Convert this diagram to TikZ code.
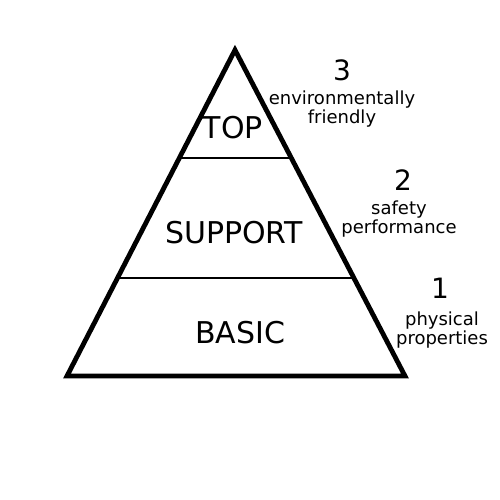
\documentclass[tikz,border=0pt]{standalone}
\usepackage{fontspec}
\setmainfont{DejaVu Sans}
\usetikzlibrary{positioning,calc}

\begin{document}
\begin{tikzpicture}[
            x=0.5pt, y=-0.5pt,
            tier/.style={font=\fontsize{15}{17}\selectfont, inner sep=0pt},
            num/.style={font=\fontsize{14}{16}\selectfont, inner sep=0pt, anchor=base},
            lbl/.style={font=\fontsize{9}{9.5}\selectfont, align=center, inner sep=0pt},
            side/.style={line width=2.4pt, line join=miter},
            cut/.style={line width=1.4pt},
        ]
            \useasboundingbox (0,0) rectangle (500,500);
            \coordinate (apex) at (235,50);
            \coordinate (bl) at (67,376);
            \coordinate (br) at (405,376);
            % tier boundaries
            \coordinate (ul) at ($(apex)!0.3313!(bl)$);
            \coordinate (ur) at ($(apex)!0.3313!(br)$);
            \coordinate (ll) at ($(apex)!0.6994!(bl)$);
            \coordinate (lr) at ($(apex)!0.6994!(br)$);
            \draw[cut] (ul) -- (ur);
            \draw[cut] (ll) -- (lr);
            \draw[side] (apex) -- (bl) -- (br) -- cycle;
            \node[tier] (top) at (233,128) {TOP};
            \node[tier] (support) at (234,233) {SUPPORT};
            \node[tier] (basic) at (240,333) {BASIC};
            % levels on the right
            \node[num] (n3) at (342,80) {3};
            \node[lbl, below=5pt of n3] (t3) {environmentally\\friendly};
            \node[num] (n2) at (403,190) {2};
            \node[lbl, below=5pt of n2, xshift=-2pt] (t2) {safety\\performance};
            \node[num] (n1) at (440,298) {1};
            \node[lbl, below=6.5pt of n1, xshift=1pt] (t1) {physical\\properties};
        \end{tikzpicture}
\end{document}
